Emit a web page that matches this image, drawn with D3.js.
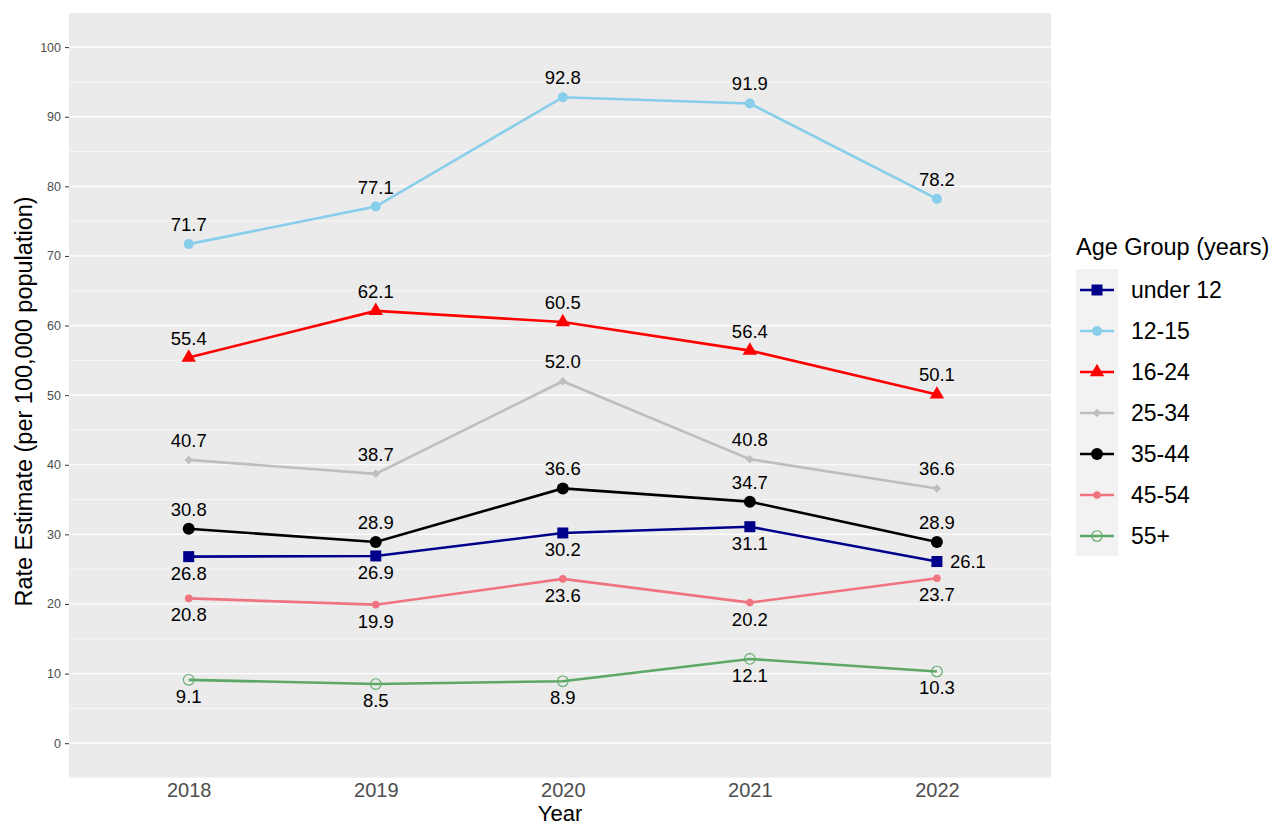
<!DOCTYPE html>
<html>
<head>
<meta charset="utf-8">
<script src="https://cdn.jsdelivr.net/npm/d3@7"></script>
<style>
  body { margin: 0; background: #fff; }
  text { font-family: "Liberation Sans", Arial, sans-serif; }
</style>
</head>
<body>
<div id="chart"></div>
<script>
let years = [2018, 2019, 2020, 2021, 2022];
let groups = ["under 12", "12-15", "16-24", "25-34", "35-44", "45-54", "55+"];
let under12 = [26.8, 26.9, 30.2, 31.1, 26.1];
let age12_15 = [71.7, 77.1, 92.8, 91.9, 78.2];
let age16_24 = [55.4, 62.1, 60.5, 56.4, 50.1];
let age25_34 = [40.7, 38.7, 52.0, 40.8, 36.6];
let age35_44 = [30.8, 28.9, 36.6, 34.7, 28.9];
let age45_54 = [20.8, 19.9, 23.6, 20.2, 23.7];
let age55plus = [9.1, 8.5, 8.9, 12.1, 10.3];
let yTicks = [0, 10, 20, 30, 40, 50, 60, 70, 80, 90, 100];

let colors = ["#00008B", "#87CEEB", "#FF0000", "#BEBEBE", "#000000", "#F07480", "#5DA865"];
// label placement: a = above, b = below, r = right
let labelPos = [
  ["b", "b", "b", "b", "r"],
  ["a", "a", "a", "a", "a"],
  ["a", "a", "a", "a", "a"],
  ["a", "a", "a", "a", "a"],
  ["a", "a", "a", "a", "a"],
  ["b", "b", "b", "b", "b"],
  ["b", "b", "b", "b", "b"]
];
let allValues = [under12, age12_15, age16_24, age25_34, age35_44, age45_54, age55plus];

let width = 1273, height = 827;
let panel = { left: 69, right: 1051, top: 13, bottom: 778 };

let svg = d3.select("#chart")
    .append("svg")
    .attr("width", width)
    .attr("height", height);

let x = d3.scaleLinear()
    .domain([2017.36, 2022.61])
    .range([panel.left, panel.right]);

let y = d3.scaleLinear()
    .domain([-5, 104.9])
    .range([panel.bottom, panel.top]);

svg.append("rect")
    .attr("x", panel.left)
    .attr("y", panel.top)
    .attr("width", panel.right - panel.left)
    .attr("height", panel.bottom - panel.top)
    .attr("fill", "#EBEBEB");

// minor grid
let minor = d3.range(-5, 105, 10);
svg.append("g").selectAll("line").data(minor).enter()
    .append("line")
    .attr("x1", panel.left).attr("x2", panel.right)
    .attr("y1", d => y(d)).attr("y2", d => y(d))
    .attr("stroke", "#fff").attr("stroke-width", 0.6);

// major grid
svg.append("g").selectAll("line").data(yTicks).enter()
    .append("line")
    .attr("x1", panel.left).attr("x2", panel.right)
    .attr("y1", d => y(d)).attr("y2", d => y(d))
    .attr("stroke", "#fff").attr("stroke-width", 1.2);

// y axis
let yAxis = svg.append("g")
    .attr("transform", `translate(${panel.left},0)`)
    .call(d3.axisLeft(y).tickValues(yTicks).tickSize(4).tickPadding(4));
yAxis.select(".domain").remove();
yAxis.selectAll("line").attr("stroke", "#333");
yAxis.selectAll("text").attr("fill", "#4D4D4D").style("font-size", "12.5px")
    .style("font-family", "Liberation Sans, Arial, sans-serif");

// x axis
let xAxis = svg.append("g")
    .attr("transform", `translate(0,${panel.bottom})`)
    .call(d3.axisBottom(x).tickValues(years).tickFormat(d3.format("d")).tickSize(0).tickPadding(5));
xAxis.select(".domain").remove();
xAxis.selectAll("text").attr("fill", "#4D4D4D").style("font-size", "20px")
    .style("font-family", "Liberation Sans, Arial, sans-serif");

svg.append("text")
    .attr("x", (panel.left + panel.right) / 2)
    .attr("y", 821)
    .attr("text-anchor", "middle")
    .style("font-size", "22px")
    .text("Year");

svg.append("text")
    .attr("transform", `translate(32, ${(panel.top + panel.bottom) / 2 + 6})rotate(-90)`)
    .attr("text-anchor", "middle")
    .style("font-size", "23.5px")
    .text("Rate Estimate (per 100,000 population)");

function drawMarker(g, i, cx, cy) {
  let c = colors[i];
  if (i === 0) {
    g.append("rect").attr("x", cx - 5.5).attr("y", cy - 5.5).attr("width", 11).attr("height", 11).attr("fill", c);
  } else if (i === 1) {
    g.append("circle").attr("cx", cx).attr("cy", cy).attr("r", 5).attr("fill", c);
  } else if (i === 2) {
    g.append("path").attr("transform", `translate(${cx},${cy})`)
      .attr("d", d3.symbol().type(d3.symbolTriangle).size(90)()).attr("fill", c);
  } else if (i === 3) {
    g.append("path").attr("transform", `translate(${cx},${cy}) rotate(45)`)
      .attr("d", "M-3,-3L3,-3L3,3L-3,3Z").attr("fill", c);
  } else if (i === 4) {
    g.append("circle").attr("cx", cx).attr("cy", cy).attr("r", 6).attr("fill", c);
  } else if (i === 5) {
    g.append("circle").attr("cx", cx).attr("cy", cy).attr("r", 3.8).attr("fill", c);
  } else {
    g.append("circle").attr("cx", cx).attr("cy", cy).attr("r", 5.3)
      .attr("fill", "none").attr("stroke", c).attr("stroke-width", 1.1);
  }
}

let line = d3.line().x((d, j) => x(years[j])).y(d => y(d));

// draw series from bottom of legend up so under 12 sits on top
for (let i = groups.length - 1; i >= 0; i--) {
  let g = svg.append("g");
  g.append("path")
      .datum(allValues[i])
      .attr("d", line)
      .attr("fill", "none")
      .attr("stroke", colors[i])
      .attr("stroke-width", 2.6);
  allValues[i].forEach(function(v, j) {
    drawMarker(g, i, x(years[j]), y(v));
  });
}

// value labels
for (let i = 0; i < groups.length; i++) {
  allValues[i].forEach(function(v, j) {
    let pos = labelPos[i][j];
    let t = svg.append("text")
        .style("font-size", "18.5px")
        .attr("fill", "#000")
        .text(v.toFixed(1));
    if (pos === "a") {
      t.attr("x", x(years[j])).attr("y", y(v) - 13).attr("text-anchor", "middle");
    } else if (pos === "b") {
      t.attr("x", x(years[j])).attr("y", y(v) + 23).attr("text-anchor", "middle");
    } else {
      t.attr("x", x(years[j]) + 13).attr("y", y(v) + 6).attr("text-anchor", "start");
    }
  });
}

// legend
let legend = svg.append("g").attr("transform", "translate(1076, 0)");
legend.append("text")
    .attr("x", 0).attr("y", 255)
    .style("font-size", "23.5px")
    .text("Age Group (years)");
legend.append("rect")
    .attr("x", 0).attr("y", 269)
    .attr("width", 42).attr("height", 287)
    .attr("fill", "#F2F2F2");
groups.forEach(function(name, i) {
  let cy = 290 + i * 41;
  let g = legend.append("g");
  g.append("line")
      .attr("x1", 4).attr("x2", 38)
      .attr("y1", cy).attr("y2", cy)
      .attr("stroke", colors[i]).attr("stroke-width", 2.6);
  drawMarker(g, i, 21, cy);
  legend.append("text")
      .attr("x", 55).attr("y", cy + 8)
      .style("font-size", "23px")
      .text(name);
});
</script>
</body>
</html>
